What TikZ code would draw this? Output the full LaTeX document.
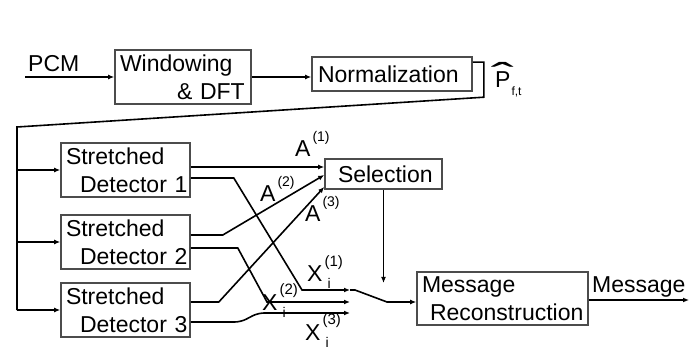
\documentclass[tikz,border=0pt]{standalone}
\usepackage{fontspec}
\setmainfont{Liberation Sans}
\usetikzlibrary{arrows.meta, positioning, calc}

\newcommand{\Alab}[1]{A\kern2pt\raisebox{15pt}{\fontsize{14}{14}\selectfont(#1)}}
\newcommand{\Xlab}[1]{X\kern2pt\rlap{\raisebox{16pt}{\fontsize{15}{15}\selectfont(#1)}}\raisebox{-7pt}{\fontsize{14}{14}\selectfont\kern3pt i}}

\begin{document}
\begin{tikzpicture}[x=1pt, y=-1pt,
    every node/.style={font=\fontsize{23}{28}\selectfont},
    blk/.style={draw=black!70, line width=1.6pt, rectangle, align=left, inner xsep=5pt, inner ysep=0pt},
    wire/.style={line width=1.6pt},
    arr/.style={wire, -{Latex[length=6pt, width=5pt]}}]
    \useasboundingbox (0,0) rectangle (689,350);

    % blocks
    \node[blk, text width=126pt, minimum height=54pt] (win) at (183,77) {\mbox{Windowing}\\\mbox{\hspace*{57pt}\& DFT}};
    \node[blk, text width=150pt, minimum height=34pt] (norm) at (392,74) {\mbox{\hspace*{1pt}Normalization}};
    \node[blk, text width=119pt, minimum height=54pt] (det1) at (125.5,170) {\mbox{Stretched}\\\mbox{\hspace*{14pt}Detector 1}};
    \node[blk, text width=119pt, minimum height=54pt] (det2) at (125.5,242) {\mbox{Stretched}\\\mbox{\hspace*{14pt}Detector 2}};
    \node[blk, text width=119pt, minimum height=54pt] (det3) at (125.5,310) {\mbox{Stretched}\\\mbox{\hspace*{14pt}Detector 3}};
    \node[blk, text width=107pt, minimum height=30pt] (sel) at (383.5,174) {\mbox{\hspace*{8pt}Selection}};
    \node[blk, text width=161pt, minimum height=53pt] (rec) at (502.5,298.5) {\mbox{Message}\\\mbox{\hspace*{8pt}Reconstruction}};

    % labels
    \node[anchor=base west, inner sep=0pt] (lpcm) at (28,72) {PCM};
    \node[anchor=base west, inner sep=0pt] (lp) at (495,88) {\rlap{\kern-4pt\scalebox{3}[1.5]{\char"02C6}}P\raisebox{-8pt}{\fontsize{12}{12}\selectfont\kern1pt f,t}};
    \node[anchor=base west, inner sep=0pt] (la1) at (295,157) {\Alab{1}};
    \node[anchor=base west, inner sep=0pt] (la2) at (260,202) {\Alab{2}};
    \node[anchor=base west, inner sep=0pt] (la3) at (305,222) {\Alab{3}};
    \node[anchor=base west, inner sep=0pt] (lx1) at (307,282) {\Xlab{1}};
    \node[anchor=base west, inner sep=0pt] (lx2) at (262,310) {\Xlab{2}};
    \node[anchor=base west, inner sep=0pt] (lx3) at (305,340) {\Xlab{3}};
    \node[anchor=base west, inner sep=0pt] (lmsg) at (592,293) {Message};

    % front end
    \coordinate (pcm) at (25,77);
    \draw[arr] (pcm) -- (pcm -| win.west);
    \draw[arr] (win.east) -- (win.east -| norm.west);
    \coordinate (n0) at ($(norm.north east)+(0,6)$);
    \coordinate (bus) at (17,127);
    \draw[wire] (n0) -- ++(11,0) -- ++(0,35) -- (bus) -- (bus |- det3.west);
    \foreach \d in {det1,det2,det3}
        \draw[arr] (bus |- \d.west) -- (\d.west);

    % A lines
    \coordinate (a1) at ($(det1.east)+(0,-3)$);
    \draw[arr] (a1) -- (a1 -| sel.west);
    \draw[arr] ($(det2.east)+(0,-7)$) -- ++(32,0) -- ($(sel.west)+(0,1)$);
    \draw[arr] ($(det3.east)+(0,-8)$) -- ++(28,0) -- ($(sel.west)+(0,13)$);

    % X lines
    \coordinate (x1) at (350,290);
    \coordinate (x2) at (350,302);
    \coordinate (x3) at (350,313);
    \draw[arr] ($(det1.east)+(0,8)$) -- ++(43,0) -- (302,290) -- (x1);
    \draw[arr] ($(det2.east)+(0,6)$) -- ++(47,0) -- (267,302) -- (x2);
    \draw[arr, rounded corners=6pt] ($(det3.east)+(0,12)$) -- ++(50,0) -- (258,313) -- (x3);

    % switch
    \coordinate (sw) at (387,302);
    \coordinate (swp) at (383,283);
    \draw[arr] (x1) -- ++(5,0) -- (sw) -- (rec.west |- sw);
    \draw[arr] (sel.south) -- (sel.south |- swp);

    % output
    \coordinate (out) at (689,300);
    \draw[arr] (rec.east |- out) -- (out);
\end{tikzpicture}
\end{document}
